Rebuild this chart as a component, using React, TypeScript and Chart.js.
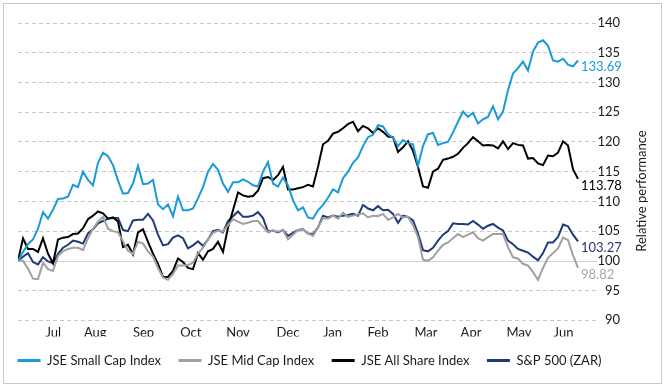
import React, { useEffect, useRef } from 'react';
import { Chart, registerables } from 'chart.js';

Chart.register(...registerables);

// ---- Data ----
const monthLabels = ['Jul', 'Aug', 'Sep', 'Oct', 'Nov', 'Dec', 'Jan', 'Feb', 'Mar', 'Apr', 'May', 'Jun'];
// position of each month label on the observation axis (observation index)
const monthPositions = [7.06, 15.46, 25.1, 34.56, 44, 54, 62.9, 72, 81.6, 90.6, 100.2, 109.1];

const yMin = 90;
const yMax = 140;
const yStep = 5;
const baselineValue = 100;

const seriesNames = ['JSE Small Cap Index', 'JSE Mid Cap Index', 'JSE All Share Index', 'S&P 500 (ZAR)'];
const seriesColors = ['#1a9ad6', '#a0a0a0', '#000000', '#1f3b77'];
const endLabelColors = ['#1a9ad6', '#a8a8a8', '#000000', '#1f3b77'];

const smallCap = [
  100, 101.5, 102.8, 103.6, 105.4, 108.2, 107.1, 108.6, 110.4, 110.5,
  110.8, 112.8, 112.4, 115, 113.6, 112.7, 116.5, 118.2, 117.6, 116.1,
  113.5, 111.3, 111.4, 113, 116, 112.9, 113, 113.6, 109.5, 108.7,
  109.5, 107.5, 110.8, 108.5, 108.5, 108.8, 110.5, 112.4, 115, 116.3,
  115.3, 113, 111.6, 113.2, 113.2, 113.7, 113.3, 112.7, 112.5, 115,
  116.6, 113, 112.5, 114, 112.7, 110.2, 108.5, 109, 107.3, 107.1,
  108.5, 109.4, 110.6, 112, 111.5, 113.9, 115, 116.5, 117.4, 119.3,
  120.8, 121.2, 122.8, 122.6, 121.3, 120.7, 119.3, 120.3, 119.8, 119.6,
  116, 119.3, 121.3, 121.5, 119.5, 119.8, 120, 121.6, 123.4, 125.1,
  124.2, 124.9, 123.1, 123.8, 124.2, 126, 123.8, 125.1, 128.7, 131.5,
  132.4, 133.5, 132, 135.2, 136.7, 137.1, 136.2, 133.7, 133.5, 134,
  133, 132.7, 133.69,
];

const midCap = [
  100, 100, 98.7, 97, 96.9, 99.7, 98.6, 98.3, 100.8, 101.6,
  102, 102.2, 102.2, 101.8, 103.8, 105.4, 106.6, 107.4, 105.4, 105,
  104.8, 103.3, 101.7, 101.2, 103.2, 102.9, 101.6, 100.7, 98.8, 97.2,
  96.8, 97.8, 99.2, 99.2, 99.3, 99.7, 101.2, 102.2, 103.6, 104.7,
  105.1, 104.9, 106, 107, 106.6, 106.2, 106.4, 106.7, 106.7, 105.7,
  104.8, 105.1, 104.9, 105.2, 103.6, 104.4, 105.2, 105.3, 104.6, 104.2,
  105.6, 107.2, 107.1, 107.6, 107.1, 108.1, 107.4, 107.6, 107.8, 108,
  107.3, 107.6, 107.5, 107.9, 106.9, 107.3, 107.9, 107.3, 107.4, 106,
  104, 100.2, 100, 100.6, 101.7, 102.7, 103.1, 103.8, 104.5, 104,
  104.4, 104.8, 103.8, 103.4, 104, 104.5, 104.5, 104.5, 102.3, 100.6,
  100.4, 99.5, 99.2, 98.1, 96.8, 98.8, 100.5, 101.3, 102.1, 103.9,
  103.5, 100.9, 98.82,
];

const allShare = [
  100, 103.8, 102, 102, 101.5, 103.8, 101.2, 99.6, 103.6, 103.9,
  104, 104.5, 104.6, 105.5, 107, 107.6, 108.3, 108, 107.1, 107.3,
  106.6, 102.3, 102.7, 101.1, 104.8, 105.3, 103.2, 101.2, 99.5, 97.3,
  97.3, 98.3, 100.4, 99.8, 98.8, 98.6, 101.3, 100.2, 101.6, 102,
  103.2, 101.5, 105.6, 108.5, 111.5, 111, 110.8, 110.9, 111.8, 113.9,
  114.1, 113.6, 114.4, 115.8, 112, 112, 112.2, 112.4, 112.8, 112.5,
  115.8, 119.6, 120.2, 121.4, 121.7, 122.3, 123, 123.4, 121.8, 122.7,
  122.3, 121.5, 122.3, 121.7, 120.9, 120.8, 118.3, 119.1, 120.1, 118.5,
  115.8, 112.5, 112.3, 115, 115.5, 117, 117.2, 117.5, 118, 119,
  119.8, 120.8, 120.1, 119.4, 119.5, 119.4, 118.9, 120.1, 118.8, 119.8,
  119.5, 119.4, 117.2, 117.3, 116.4, 116.1, 117.7, 117.6, 118.2, 120.1,
  119.4, 115.4, 113.78,
];

const sp500 = [
  100, 100.7, 101.3, 99.8, 99.4, 100.6, 99.9, 99.6, 101.2, 102.2,
  102.7, 103.4, 103.2, 102.9, 104.6, 105.3, 106.3, 106.7, 107.1, 107.2,
  107.2, 105.2, 105, 106.8, 106.9, 106.9, 107.9, 106.8, 104.4, 102.6,
  102.8, 103.9, 104.3, 103.8, 102.1, 102.6, 103.3, 102.5, 103.6, 105,
  105.2, 104.8, 106.7, 107.5, 108.3, 107.4, 107.4, 107.6, 108.2, 107.2,
  104.9, 105.1, 104.8, 105.2, 104.2, 104.7, 105.2, 105.3, 104.6, 104.5,
  105.6, 107.6, 107.3, 107.6, 107.4, 107.6, 107.7, 107.9, 107.6, 109.4,
  108.8, 108.5, 109.2, 108.5, 108.6, 107.9, 106.4, 107.6, 107.4, 106.8,
  104.6, 101.8, 101.6, 102.2, 103.4, 104.4, 105, 106.3, 106.2, 106.2,
  106.1, 106.7, 106.1, 105.4, 105.9, 106.2, 105.6, 105.1, 103.4, 102.8,
  102, 101.7, 101.4, 100.7, 100.1, 101.3, 103.1, 103.1, 104, 106.1,
  105.8, 104.4, 103.27,
];

const seriesValues = [smallCap, midCap, allShare, sp500];
const observationIndex = smallCap.map((_, i) => i);
const xAxisMax = 115.8;
const yAxisTitle = 'Relative performance';

const FONT = 'Lato';
const TEXT = '#1a1a1a';

const overlayPlugin = {
  id: 'overlay',
  beforeDatasetsDraw(chart: any) {
    const { ctx, chartArea, scales } = chart;
    const py = Math.round(scales.y.getPixelForValue(baselineValue)) + 0.5;
    ctx.save();
    ctx.strokeStyle = '#d2d2d2';
    ctx.lineWidth = 1;
    ctx.beginPath();
    ctx.moveTo(chartArea.left, py);
    ctx.lineTo(chartArea.right, py);
    ctx.stroke();
    ctx.restore();
  },
  afterDatasetsDraw(chart: any) {
    const { ctx, chartArea, scales } = chart;
    ctx.save();
    // y tick labels, right-aligned next to the plot
    ctx.font = `13px ${FONT}`;
    ctx.fillStyle = TEXT;
    ctx.textAlign = 'right';
    ctx.textBaseline = 'middle';
    scales.y.ticks.forEach((t: any) => {
      ctx.fillText(String(t.value), chartArea.right + 23, scales.y.getPixelForValue(t.value));
    });
    // end-of-line value labels
    ctx.textAlign = 'left';
    chart.data.datasets.forEach((ds: any, i: number) => {
      const meta = chart.getDatasetMeta(i);
      const last = meta.data[meta.data.length - 1];
      const v = ds.data[ds.data.length - 1];
      ctx.fillStyle = endLabelColors[i];
      ctx.fillText(Number(v).toFixed(2), last.x + 3, last.y + 6.5);
    });
    // axis title, reading bottom-to-top on the right
    ctx.translate(chart.width - 23, (chartArea.top + chart.height) / 2 - 14);
    ctx.rotate(-Math.PI / 2);
    ctx.textAlign = 'center';
    ctx.fillStyle = TEXT;
    ctx.font = `13px ${FONT}`;
    ctx.fillText(yAxisTitle, 0, 0);
    ctx.restore();
  },
};

export default function App() {
  const canvasRef = useRef<HTMLCanvasElement | null>(null);

  useEffect(() => {
    if (!canvasRef.current) return;
    Chart.defaults.font.family = FONT;
    Chart.defaults.color = TEXT;

    const chart = new Chart(canvasRef.current, {
      type: 'line',
      data: {
        labels: observationIndex,
        datasets: seriesValues.map((vals, i) => ({
          label: seriesNames[i],
          data: vals,
          xAxisID: 'x',
          yAxisID: 'y',
          borderColor: seriesColors[i],
          backgroundColor: seriesColors[i],
          borderWidth: 2,
          pointRadius: 0,
          tension: 0,
          fill: false,
        })),
      },
      options: {
        responsive: false,
        animation: false,
        devicePixelRatio: 1,
        layout: { padding: { top: 23, right: 0, bottom: 10, left: 0 } },
        plugins: {
          tooltip: { enabled: false },
          legend: {
            position: 'bottom',
            align: 'start',
            labels: {
              boxWidth: 23,
              boxHeight: 3,
              padding: 17.5,
              color: TEXT,
              font: { size: 13, family: FONT },
              generateLabels: (chart: any) =>
                Chart.defaults.plugins.legend.labels.generateLabels(chart).map((l: any) => ({
                  ...l,
                  lineWidth: 0,
                  fillStyle: l.strokeStyle,
                })),
            },
          },
        },
        scales: {
          x: {
            type: 'linear',
            min: 0,
            max: xAxisMax,
            grid: { display: false, drawTicks: false },
            border: { display: false },
            afterBuildTicks: (scale: any) => {
              scale.ticks = monthPositions.map((v) => ({ value: v }));
            },
            afterFit: (scale: any) => {
              scale.height = 16.2;
            },
            ticks: {
              autoSkip: false,
              maxRotation: 0,
              padding: 5,
              color: TEXT,
              font: { size: 13, family: FONT },
              callback: (_v: any, i: number) => monthLabels[i],
            },
          },
          yL: {
            position: 'left',
            display: true,
            min: yMin,
            max: yMax,
            grid: { display: false, drawTicks: false },
            border: { display: false },
            ticks: { display: false },
            afterFit: (scale: any) => {
              scale.width = 18;
            },
          },
          y: {
            position: 'right',
            min: yMin,
            max: yMax,
            grid: {
              drawTicks: false,
              lineWidth: 1,
              color: (ctx: any) =>
                ctx.tick && ctx.tick.value === baselineValue ? 'rgba(0,0,0,0)' : '#c8c8c8',
            },
            border: { display: false, dash: [4, 3] },
            afterFit: (scale: any) => {
              scale.width = 68;
            },
            ticks: {
              stepSize: yStep,
              display: false,
            },
          },
        },
      },
      plugins: [overlayPlugin],
    } as any);

    return () => chart.destroy();
  }, []);

  return (
    <div
      style={{
        position: 'fixed',
        left: 0,
        top: 0,
        width: 665,
        height: 387,
        background: '#ffffff',
      }}
    >
      <canvas ref={canvasRef} width={665} height={387} style={{ display: 'block' }} />
      <div
        style={{
          position: 'absolute',
          left: 3,
          top: 3,
          width: 659,
          height: 381,
          boxSizing: 'border-box',
          border: '1px solid #c8c8c8',
          pointerEvents: 'none',
        }}
      />
    </div>
  );
}
